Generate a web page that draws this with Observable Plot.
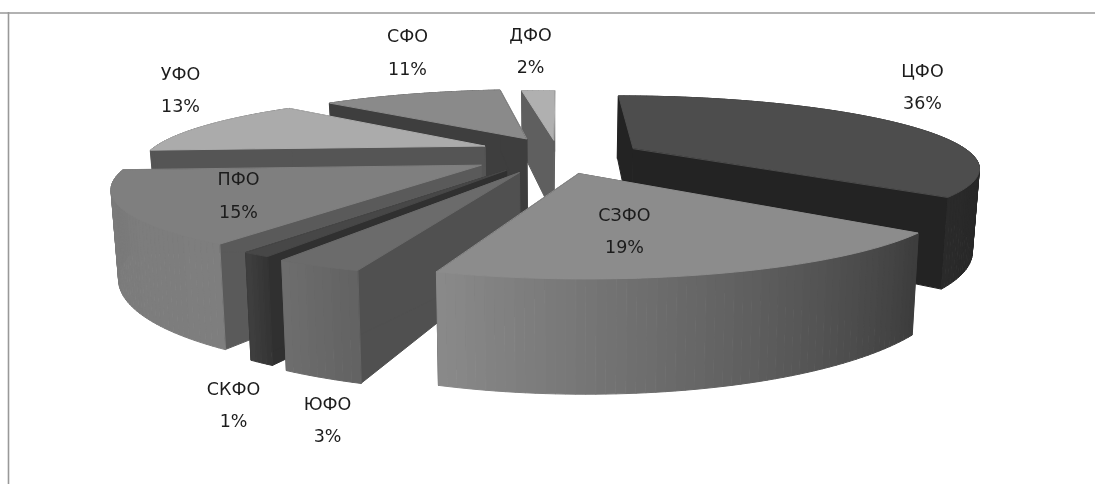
<!DOCTYPE html>
<html>
<head>
<meta charset="utf-8">
<script src="https://cdn.jsdelivr.net/npm/d3@7"></script>
<script src="https://cdn.jsdelivr.net/npm/@observablehq/plot@0.6"></script>
<style>
html,body{margin:0;padding:0;background:#fff;overflow:hidden}
svg{display:block;filter:blur(0.35px)}
</style>
</head>
<body>
<div id="chart"></div>
<script>
// Data
const districts = ["ЦФО","СЗФО","ЮФО","СКФО","ПФО","УФО","СФО","ДФО"];
const shares = [36,19,3,1,15,13,11,2];

// Slice layout: how far each slice is pulled out of the pie, on the pie's own plane
const pullU = [0.225,0.056,-0.109,-0.146,-0.22,-0.225,-0.10,-0.015];
const pullV = [0.165,-0.19,-0.179,-0.148,-0.08,0.20,0.315,0.296];
const paintOrder = ["ДФО","СФО","УФО","ПФО","СКФО","ЮФО","ЦФО","СЗФО"];

// Slice styling
const topColor = ["#4d4d4d","#8c8c8c","#6b6b6b","#474747","#7f7f7f","#ababab","#8a8a8a","#b0b0b0"];
const cutColor = ["#232323","#444444","#505050","#303030","#5a5a5a","#555555","#3e3e3e","#5f5f5f"];
const wallFrom = ["#1e1e1e","#3c3c3c","#626262","#333333","#7e7e7e","#555555","#3e3e3e","#5f5f5f"];
const wallTo   = ["#2a2a2a","#8a8a8a","#6e6e6e","#3f3f3f","#7a7a7a","#555555","#3e3e3e","#5f5f5f"];

// Label layout
const labelX = [922,624,327,233,238,180,407,530];
const labelY = [82,226,415,400,190.5,85,47.5,46];

// Camera
const cx = 558, cy = 159, rx = 345, ry = 70.5, dist = 4, depth = 81, taper = 0.017;
const project = (u, v, z) => {
  const s = dist / (dist + v);
  return {x: cx + rx * u * s * (1 - taper * z), y: cy - ry * v * s + z * depth * s};
};

const toRad = d3.scaleLinear().domain([0,100]).range([0,2*Math.PI]);
const cum = d3.cumsum(shares);
const polys = [];
let id = 0;
const addPoly = (pts, color) => {
  const k = id++;
  for (const p of pts) polys.push({...p, k, color});
};
for (const name of paintOrder) {
  const i = districts.indexOf(name);
  const a0 = toRad(cum[i]-shares[i]), a1 = toRad(cum[i]);
  const ox = pullU[i], oy = pullV[i];
  const rim = a => [ox + Math.sin(a), oy + Math.cos(a)];
  const n = Math.max(4, Math.round(shares[i]*3));
  const angles = d3.range(n+1).map(j => a0 + (a1-a0)*j/n);
  const wallC = d3.interpolateRgb(wallFrom[i], wallTo[i]);
  const strip = j => {
    const [u0,v0] = rim(angles[j]), [u1,v1] = rim(angles[j+1]);
    addPoly([project(u0,v0,0),project(u1,v1,0),project(u1,v1,1),project(u0,v0,1)], wallC((j+0.5)/n));
  };
  const strips = d3.range(n);
  const isBack = j => Math.cos((angles[j]+angles[j+1])/2) > 0;
  // walls on the far side lie behind the cut faces, walls on the near side in front
  strips.filter(isBack).forEach(strip);
  for (const a of [a0,a1]) {
    const [u,v] = rim(a);
    addPoly([project(ox,oy,0),project(u,v,0),project(u,v,1),project(ox,oy,1)], cutColor[i]);
  }
  strips.filter(j => !isBack(j)).forEach(strip);
  // top face
  addPoly([project(ox,oy,0), ...angles.map(a => { const [u,v] = rim(a); return project(u,v,0); })], topColor[i]);
}

const labels = districts.map((d,i) => ({text:`${d}\n${shares[i]}%`, x:labelX[i], y:labelY[i]}));

const chart = Plot.plot({
  width:1095, height:484, margin:0,
  x:{domain:[0,1095], range:[0,1095], axis:null},
  y:{domain:[0,484], range:[0,484], axis:null},
  color:{type:"identity"},
  marks:[
    Plot.ruleY([12.5],{stroke:"#999",strokeWidth:1.6}),
    Plot.ruleX([8],{stroke:"#999",strokeWidth:1.6,y1:12,y2:484}),
    Plot.line(polys,{x:"x",y:"y",z:"k",fill:"color",stroke:"color",strokeWidth:1,strokeLinejoin:"round",curve:"linear-closed"}),
    Plot.text(labels,{x:"x",y:"y",text:"text",lineHeight:1.85,fontSize:17.5,fontFamily:"'DejaVu Sans',sans-serif",fill:"#1c1c1c"})
  ]
});
document.getElementById("chart").append(chart);
</script>
</body>
</html>
